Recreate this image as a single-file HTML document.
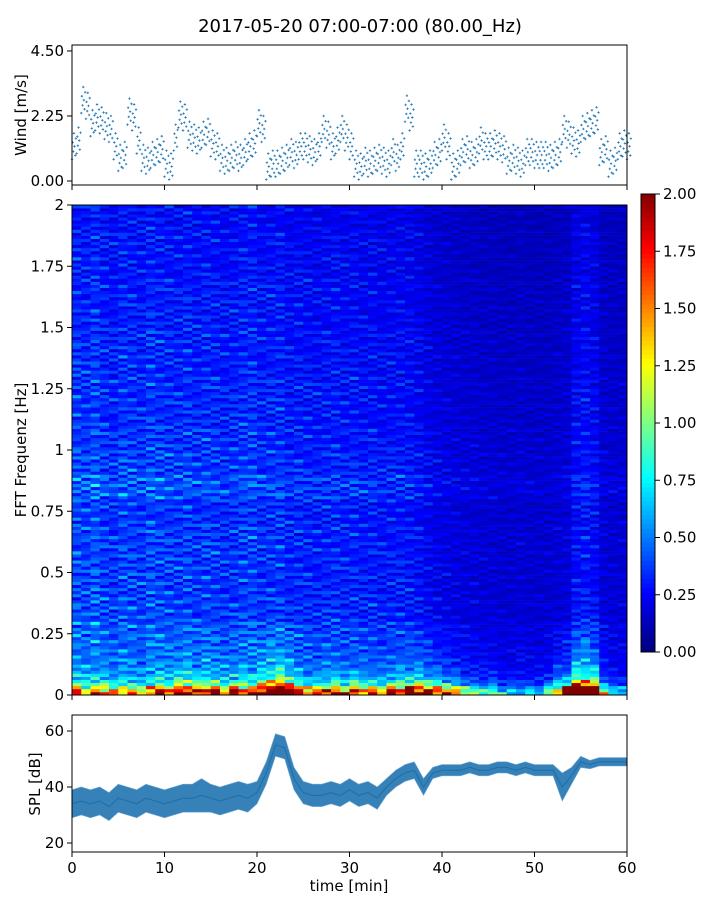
<!DOCTYPE html>
<html><head><meta charset="utf-8">
<style>
body{margin:0;background:#fff;width:720px;height:900px;overflow:hidden}
svg{display:block;font-family:"DejaVu Sans","Liberation Sans",sans-serif}
</style></head><body>
<svg id="fig" width="720" height="900" xmlns="http://www.w3.org/2000/svg">
<text x="360" y="32" font-size="18" text-anchor="middle">2017-05-20 07:00-07:00 (80.00_Hz)</text>
<g id="wind"></g>
<g id="spec"></g>
<g id="cbar"></g>
<g id="spl"></g>
<text transform="translate(26,115) rotate(-90)" font-size="15" text-anchor="middle">Wind [m/s]</text>
<text transform="translate(26,450) rotate(-90)" font-size="15" text-anchor="middle">FFT Frequenz [Hz]</text>
<text transform="translate(40,784) rotate(-90)" font-size="15" text-anchor="middle">SPL [dB]</text>
<text x="349" y="891" font-size="15" text-anchor="middle">time [min]</text>
</svg>
<script>
// ---- data ----
const windVals=[1.2,1.4,2.8,2.6,2.0,2.2,2.1,1.9,1.8,1.2,0.8,0.9,2.4,2.2,1.4,0.8,0.7,0.9,1.0,1.1,0.6,0.5,1.5,2.3,2.2,1.6,1.5,1.4,1.6,1.7,1.3,1.2,0.8,0.7,0.8,0.9,0.8,1.0,1.2,1.3,2.0,1.8,0.5,0.6,0.6,0.7,0.8,1.0,0.9,1.2,1.2,1.1,1.0,1.2,1.8,1.6,1.2,1.4,1.8,1.5,1.2,0.6,0.5,0.7,0.6,0.7,0.8,0.7,0.6,1.0,0.8,1.2,2.5,2.2,0.6,0.6,0.5,0.6,0.9,1.0,1.5,1.2,0.5,0.6,1.0,1.1,0.9,1.0,1.4,1.2,1.2,1.3,1.2,1.1,0.7,0.8,0.7,0.6,1.0,1.0,0.9,0.9,0.9,0.8,0.9,1.0,1.8,1.6,1.4,1.3,1.8,1.9,2.0,2.1,1.0,1.1,0.6,0.7,1.2,1.3,1.2];
const windSpread=0.45;
const splMean=[34,35,34,35,33,36,35,34,36,35,34,35,36,36,37,36,35,36,37,36,38,45,55,54,43,38,37,37,38,37,39,37,38,36,40,43,45,46,40,45,46,46,46,47,46,46,47,47,46,47,46,46,46,40,44,49,48,49,49,49,49];
const splHalf=[5,5,5,5,5,5,5,5,5,5,5,5,5,5,6,5,5,5,5,5,4,4,4,4,4,4,4,4,4,4,4,4,4,4,3,3,3,3,3,2,2,2,2,2,2,2,2,2,2,2,2,2,2,5,3,2,1.5,1.5,1.5,1.5,1.5];
const specCol=[0.38,0.36,0.40,0.35,0.33,0.37,0.36,0.34,0.38,0.36,0.35,0.34,0.36,0.33,0.35,0.34,0.32,0.33,0.35,0.36,0.32,0.33,0.34,0.30,0.31,0.30,0.29,0.30,0.31,0.29,0.30,0.28,0.29,0.27,0.28,0.28,0.27,0.25,0.22,0.20,0.19,0.18,0.17,0.17,0.16,0.16,0.15,0.15,0.16,0.15,0.15,0.15,0.16,0.17,0.25,0.27,0.24,0.17,0.16,0.16];
const specRow=[1.25,1.15,1.15,1.1,1.05,1.05,1.05,1.0,1.2,1.05,1.0,0.95,0.95,0.9,0.9,0.85,0.85,0.8,0.8,0.75];
const lowBoost=[0.5,0.4,0.4,0.5,0.4,0.4,0.4,0.3,0.5,0.6,0.5,0.7,0.8,0.6,0.7,0.6,0.5,0.6,0.6,0.5,0.9,1.2,1.3,1.1,0.6,0.5,0.5,0.6,0.6,0.5,0.6,0.6,0.5,0.5,0.6,0.7,0.8,0.9,0.8,0.7,0.6,0.5,0.4,0.3,0.3,0.3,0.2,0.2,0.2,0.2,0.2,0.3,0.6,0.8,1.4,1.5,1.2,0.4,0.2,0.2];
const lowProf=[2.6,2.2,1.6,0.9,0.7,0.5,0.35,0.3,0.3,0.25,0.2,0.2,0.15,0.15,0.12,0.12,0.1,0.1,0.1,0.08,0.08,0.06,0.05,0.05];
const stripe=[1.0,0.7,1.3,0.9,1.1,0.6,1.4,0.95,0.8,1.2,0.75,1.05,1.35,0.85,0.65,1.15,0.9];
const colJit=[1.0,1.15,0.9,1.05,0.85,1.1,0.95,1.2,0.9];
const windTicks=[0,2.25,4.5], windTickLbl=["0.00","2.25","4.50"];
const freqTicks=[0,0.25,0.5,0.75,1,1.25,1.5,1.75,2], freqTickLbl=["0","0.25","0.5","0.75","1","1.25","1.5","1.75","2"];
const cbTicks=[0,0.25,0.5,0.75,1,1.25,1.5,1.75,2];
const splTicks=[20,40,60];
const timeTicks=[0,10,20,30,40,50,60];

// ---- axes ----
const NS="http://www.w3.org/2000/svg";
const X0=72,X1=627;
const xT=t=>X0+t*(X1-X0)/60;
const yW=v=>181-v*28.9;
const yF=f=>695-f*245;
const yC=v=>652-v*229;
const yS=d=>787-(d-40)*2.8;
function mk(tag,attrs,parent){const e=document.createElementNS(NS,tag);for(const k in attrs)e.setAttribute(k,attrs[k]);parent.appendChild(e);return e;}
function jet(v){v=Math.max(0,Math.min(1,v));const r=Math.max(0,Math.min(1,1.5-Math.abs(4*v-3))),g=Math.max(0,Math.min(1,1.5-Math.abs(4*v-2))),b=Math.max(0,Math.min(1,1.5-Math.abs(4*v-1)));return `rgb(${Math.round(r*255)},${Math.round(g*255)},${Math.round(b*255)})`;}
function yTicks(g,vals,lbls,yf,name){vals.forEach((v,i)=>{const y=yf(v);
 const l=mk('line',{x1:X0-5,x2:X0,y1:y,y2:y,stroke:'#000'},g);
 
 
 const t=mk('text',{x:X0-8,y:y+5,'font-size':15,'text-anchor':'end'},g);t.textContent=lbls[i];
 
 });}
function xTicks(g,yb,labels){timeTicks.forEach(v=>{const x=xT(v);
 const l=mk('line',{x1:x,x2:x,y1:yb,y2:yb+5,stroke:'#000'},g);
 
 
 if(labels){const t=mk('text',{x:x,y:yb+21,'font-size':15,'text-anchor':'middle'},g);t.textContent=String(v);
 
 }});}
function frame(g,y0,y1){const r=mk('rect',{x:X0,y:y0,width:X1-X0,height:y1-y0,fill:'none',stroke:'#000','stroke-width':1},g);
 
 }

// wind
const gw=document.getElementById('wind');
let d='';
windVals.forEach((v,i)=>{const t=i*0.5;[-1,0.3,-0.4,1,0,-0.7,0.6].forEach((o,k)=>{const x=xT(t+k*0.07),y=yW(Math.max(0.05,v+o*windSpread));d+=`M${x-1.2},${y}h2.4M${x},${y-1.2}v2.4`;});});
const wp=mk('path',{d:d,stroke:'#1f77b4','stroke-width':0.8,fill:'none'},gw);


frame(gw,45,185);yTicks(gw,windTicks,windTickLbl,yW,'wind-y');xTicks(gw,185,false);

// spectrogram
const gs=document.getElementById('spec');
const NR=160,NC=specCol.length,fh=2/NR;
for(let c=0;c<NC;c++){for(let r=0;r<NR;r++){const f=r*fh,b=Math.min(19,Math.floor(f/0.1));
 const lp=r<lowProf.length?lowProf[r]:0;
 const v=specCol[c]*specRow[b]*stripe[(r+c*3)%stripe.length]*colJit[(r+c)%colJit.length]+lowBoost[c]*lp*stripe[(r*2+c)%stripe.length];
 const x=xT(c),y=yF(f+fh);
 const e=mk('rect',{x:x,y:y,width:xT(c+1)-x+0.3,height:yF(f)-y+0.3,fill:jet(v/2)},gs);
 
 }}
frame(gs,205,695);yTicks(gs,freqTicks,freqTickLbl,yF,'freq-y');xTicks(gs,695,false);

// colorbar
const gc=document.getElementById('cbar');
for(let i=0;i<100;i++){const v=i/50;const e=mk('rect',{x:641,y:yC(v+0.02),width:14,height:229*0.02+0.4,fill:jet(v/2)},gc);
 
 }
const cf=mk('rect',{x:641,y:194,width:14,height:458,fill:'none',stroke:'#000'},gc);


cbTicks.forEach(v=>{const y=yC(v);const l=mk('line',{x1:655,x2:660,y1:y,y2:y,stroke:'#000'},gc);
 
 
 const t=mk('text',{x:663,y:y+5,'font-size':15},gc);t.textContent=v.toFixed(2);
 
 });

// spl
const gp=document.getElementById('spl');
let up='',lo='',mid='';
splMean.forEach((m,i)=>{up+=(i?'L':'M')+xT(i)+','+yS(m+splHalf[i]);mid+=(i?'L':'M')+xT(i)+','+yS(m);});
for(let i=splMean.length-1;i>=0;i--)lo+='L'+xT(i)+','+yS(splMean[i]-splHalf[i]);
const band=mk('path',{d:up+lo+'Z',fill:'#2a7ab4','fill-opacity':0.95,stroke:'#6fa8d0','stroke-width':0.6},gp);


const ml=mk('path',{d:mid,fill:'none',stroke:'#1f6ea8','stroke-width':1},gp);


frame(gp,715,852);yTicks(gp,splTicks,splTicks.map(String),yS,'spl-y');xTicks(gp,852,true);
</script>
</body></html>
